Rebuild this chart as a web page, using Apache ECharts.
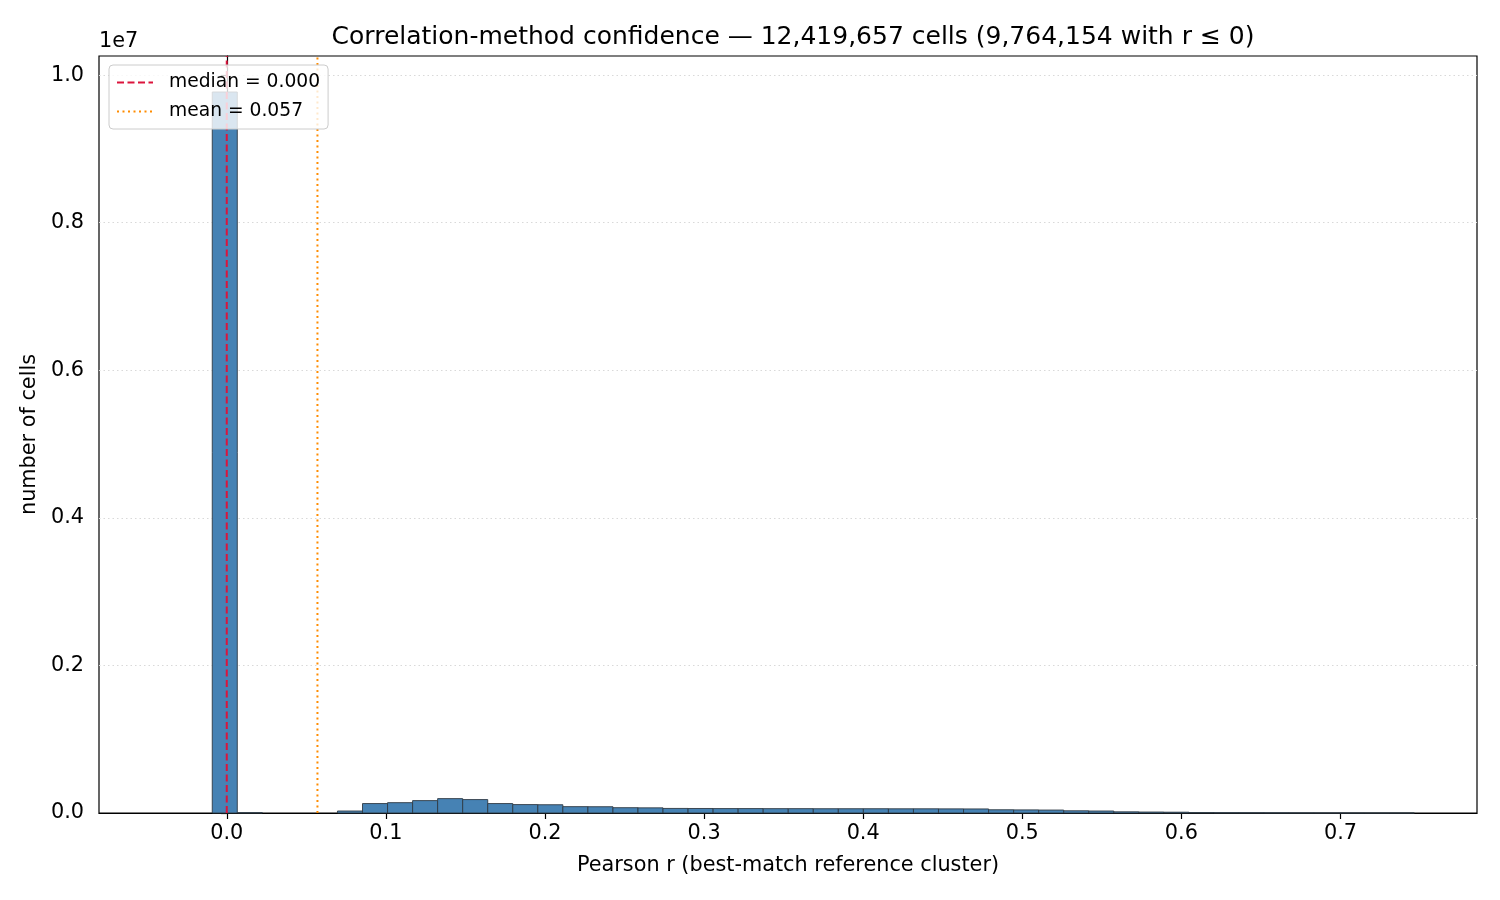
<!DOCTYPE html>
<html>
<head>
<meta charset="utf-8">
<title>Correlation-method confidence</title>
<script src="https://cdn.jsdelivr.net/npm/echarts@6/dist/echarts.min.js"></script>
<style>
  html, body { margin: 0; padding: 0; background: #fff; }
  #chart { width: 1500px; height: 900px; }
</style>
</head>
<body>
<div id="chart"></div>
<script>
// histogram bins: 50 equal bins starting at binStart
var binStart = -0.0406;
var binWidth = 0.01574;
var binCounts = [
    0, 0, 9772000, 4000, 0, 0, 0, 27000, 128000, 140000,
    168000, 195000, 182000, 128000, 114000, 112000, 86000, 85000, 72000, 70000,
    62000, 61000, 60000, 60000, 59000, 59000, 58000, 58000, 58000, 57000,
    57000, 56000, 55000, 44000, 42000, 40000, 30000, 27000, 16000, 13000,
    11000, 6000, 4000, 3000, 2000, 1000, 600, 300, 150, 50
];
var medianR = 0.000;
var meanR = 0.057;
var xTicks = [0, 0.1, 0.2, 0.3, 0.4, 0.5, 0.6, 0.7];
var yTicks = [0, 2e6, 4e6, 6e6, 8e6, 1e7];

function Set_Hist_echarts() {
    var dom = document.getElementById('chart');
    var myChart = echarts.init(dom, null, { renderer: 'canvas' });

    var xMin = -0.0803, xMax = 0.7858;
    var yMax = 10260000;

    var histData = binCounts.map(function (c, i) {
        return [binStart + i * binWidth, binStart + (i + 1) * binWidth, c];
    });

    var font = 'DejaVu Sans';

    var option = {
        animation: false,
        backgroundColor: '#fff',
        title: {
            text: 'Correlation-method confidence \u2014 12,419,657 cells (9,764,154 with r \u2264 0)',
            left: 788,
            top: 20,
            textAlign: 'center',
            textStyle: { fontFamily: font, fontSize: 25, fontWeight: 'normal', color: '#000' }
        },
        grid: {
            left: 99, right: 23, top: 56, bottom: 87,
            show: true, borderColor: '#000', borderWidth: 1.2,
            backgroundColor: 'transparent'
        },
        legend: {
            orient: 'vertical',
            left: 109,
            top: 65,
            z: 20,
            padding: [8, 8, 8, 7],
            itemWidth: 36,
            itemHeight: 14,
            itemGap: 10,
            backgroundColor: 'rgba(255,255,255,0.8)',
            borderColor: '#cccccc',
            borderWidth: 1,
            borderRadius: 4,
            itemStyle: { opacity: 0 },
            textStyle: { fontFamily: font, fontSize: 18.7, color: '#000', padding: [0, 0, 0, 11] },
            data: ['median = 0.000', 'mean = 0.057']
        },
        xAxis: {
            type: 'value',
            min: xMin,
            max: xMax,
            name: 'Pearson r (best-match reference cluster)',
            nameLocation: 'middle',
            nameGap: 42,
            nameTextStyle: { fontFamily: font, fontSize: 20.8, color: '#000' },
            axisLine: { show: true, onZero: false, lineStyle: { color: '#000', width: 1.2 } },
            axisTick: { show: true, length: 6, lineStyle: { color: '#000', width: 1.2 }, customValues: xTicks },
            axisLabel: {
                fontFamily: font, fontSize: 20.8, color: '#000', margin: 10,
                customValues: xTicks,
                formatter: function (v) { return v.toFixed(1); }
            },
            splitLine: { show: false }
        },
        yAxis: {
            type: 'value',
            min: 0,
            max: yMax,
            interval: 2e6,
            name: 'number of cells',
            nameLocation: 'middle',
            nameGap: 52,
            nameRotate: 90,
            nameTextStyle: { fontFamily: font, fontSize: 20.8, color: '#000' },
            axisLine: { show: true, lineStyle: { color: '#000', width: 1.2 } },
            axisTick: { show: true, length: 6, lineStyle: { color: '#000', width: 1.2 }, customValues: yTicks },
            axisLabel: {
                fontFamily: font, fontSize: 20.8, color: '#000', margin: 15,
                customValues: yTicks,
                formatter: function (v) { return (v / 1e7).toFixed(1); }
            },
            splitLine: { show: true, lineStyle: { color: '#d9d9d9', type: [1.5, 3], width: 1 } }
        },
        graphic: [
            {
                type: 'text', left: 99, top: 31,
                style: { text: '1e7', font: '20.8px "DejaVu Sans"', fill: '#000' }
            }
        ],
        series: [
            {
                name: 'hist',
                type: 'custom',
                z: 2,
                renderItem: function (params, api) {
                    var c = api.value(2);
                    if (!c) return;
                    var p0 = api.coord([api.value(0), c]);
                    var p1 = api.coord([api.value(1), 0]);
                    return {
                        type: 'rect',
                        shape: { x: p0[0], y: p0[1], width: p1[0] - p0[0], height: p1[1] - p0[1] },
                        style: { fill: '#4682b4', stroke: '#2f3a44', lineWidth: 0.9 }
                    };
                },
                encode: { x: [0, 1], y: 2 },
                data: histData
            },
            {
                name: 'median = 0.000',
                type: 'line',
                z: 3,
                symbol: 'none',
                lineStyle: { color: '#dc143c', width: 2, type: [7, 3.5] },
                itemStyle: { color: '#dc143c' },
                data: [[medianR, 0], [medianR, yMax]]
            },
            {
                name: 'mean = 0.057',
                type: 'line',
                z: 3,
                symbol: 'none',
                lineStyle: { color: '#ff8c00', width: 2, type: [2, 3.5] },
                itemStyle: { color: '#ff8c00' },
                data: [[meanR, 0], [meanR, yMax]]
            }
        ]
    };

    myChart.setOption(option);
    window.addEventListener('resize', myChart.resize);
}
Set_Hist_echarts();
</script>
</body>
</html>
